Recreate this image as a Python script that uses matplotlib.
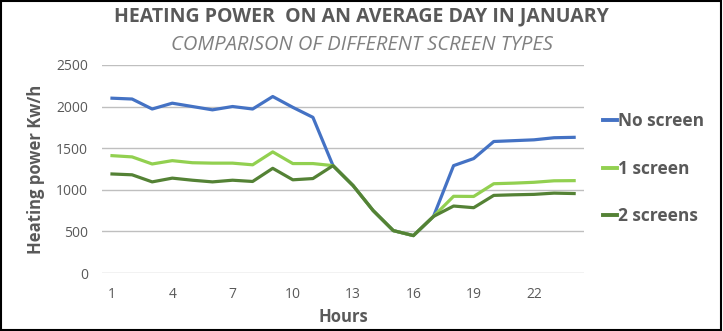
import matplotlib
matplotlib.use("Agg")
from matplotlib import pyplot as plt
from matplotlib.patches import Rectangle

plt.rcParams['font.family'] = ['Open Sans', 'DejaVu Sans']

hours = list(range(1, 25))
no_screen = [2100, 2090, 1970, 2040, 2000, 1960, 2000, 1970, 2120, 1990, 1870, 1290,
             1050, 750, 510, 450, 680, 1290, 1375, 1580, 1590, 1600, 1625, 1630]
one_screen = [1410, 1395, 1310, 1350, 1325, 1320, 1320, 1300, 1455, 1315, 1315, 1290,
              1050, 750, 510, 450, 680, 922, 920, 1073, 1080, 1090, 1108, 1110]
two_screens = [1190, 1180, 1095, 1140, 1115, 1095, 1115, 1100, 1258, 1120, 1135, 1290,
               1050, 750, 510, 450, 680, 805, 785, 933, 940, 945, 960, 955]

grey = '#595959'

fig = plt.figure(figsize=(7.23, 3.31), dpi=100)
ax = fig.add_axes([0.141, 0.175, 0.667, 0.629])

ax.plot(hours, no_screen, color='#4472C4', lw=2.3, label='No screen')
ax.plot(hours, one_screen, color='#92D050', lw=2.3, label='1 screen')
ax.plot(hours, two_screens, color='#548235', lw=2.3, label='2 screens')

ax.set_xlim(0.5, 24.5)
ax.set_ylim(0, 2500)
ax.set_xticks(range(1, 25, 3))
ax.set_yticks(range(0, 2501, 500))
ax.tick_params(length=0, labelsize=10, labelcolor=grey, pad=10)
ax.grid(axis='y', color='#BFBFBF', lw=1)
ax.set_axisbelow(True)
for s in ax.spines.values():
    s.set_visible(False)

ax.set_xlabel('Hours', fontsize=12, fontweight='bold', color=grey, labelpad=4)
ax.set_ylabel('Heating power Kw/h', fontsize=12, fontweight='bold', color=grey, labelpad=8)

fig.text(0.5, 0.95, 'HEATING POWER  ON AN AVERAGE DAY IN JANUARY', ha='center', va='center',
         fontsize=14, fontweight='bold', color=grey)
fig.text(0.5, 0.865, 'COMPARISON OF DIFFERENT SCREEN TYPES', ha='center', va='center',
         fontsize=14.5, style='italic', color='#808080')

leg = fig.legend(loc='center left', bbox_to_anchor=(0.812, 0.49), frameon=False,
                 handlelength=0.85, handletextpad=0.05, labelspacing=1.7,
                 prop={'size': 12.5, 'weight': 'bold'})
for t in leg.get_texts():
    t.set_color(grey)
for h in leg.get_lines():
    h.set_linewidth(2.8)

fig.patches.append(Rectangle((0.002, 0.004), 0.995, 0.992, transform=fig.transFigure,
                             fill=False, edgecolor='black', lw=1.5))

plt.savefig('out.png', dpi=100)
